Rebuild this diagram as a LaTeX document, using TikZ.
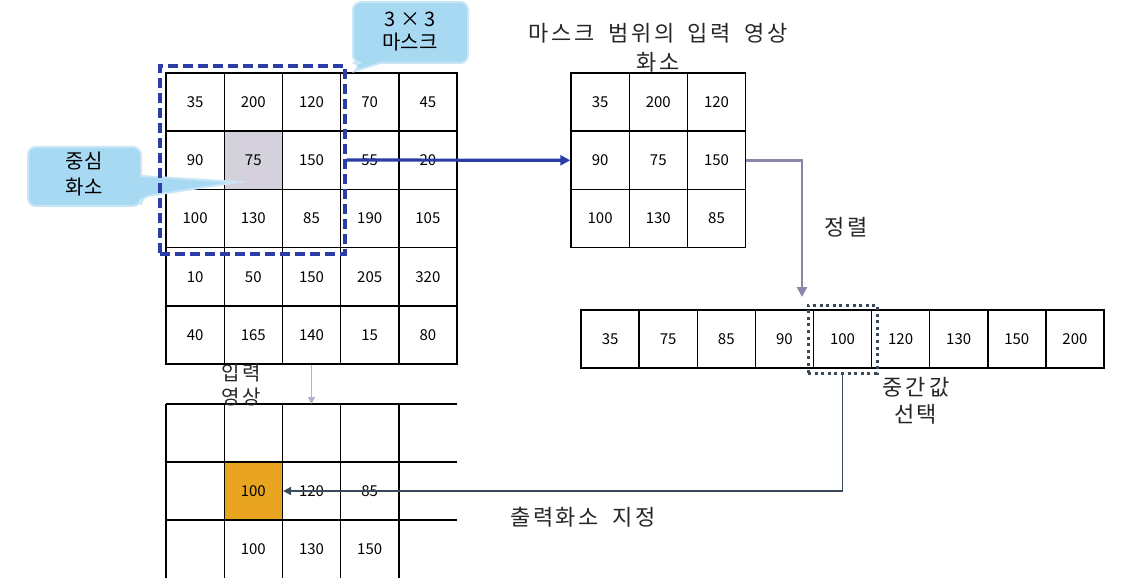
\documentclass[tikz,border=0pt]{standalone}
\usepackage{fontspec}
\setmainfont{Noto Sans CJK KR}
\usetikzlibrary{arrows.meta}
\newcommand\ksp[1][3pt]{\kern#1}
\definecolor{maskblue}{RGB}{43,62,168}
\definecolor{calfill}{RGB}{168,217,243}
\definecolor{caledge}{RGB}{200,230,245}
\definecolor{grayfill}{RGB}{212,209,220}
\definecolor{orangefill}{RGB}{233,165,31}
\definecolor{sortarrow}{RGB}{139,135,170}
\definecolor{darkarrow}{RGB}{58,74,90}
\definecolor{lightarrow}{RGB}{179,176,201}
\definecolor{txt}{RGB}{38,38,38}
\begin{document}
\begin{tikzpicture}[x=1pt,y=-1pt,
  cell/.style={draw=black,line width=1.4pt,minimum width=58.2pt,minimum height=58.2pt,inner sep=0pt,font=\fontsize{15}{17}\selectfont},
  num/.style={inner sep=0pt,font=\fontsize{15}{17}\selectfont},
  lbl/.style={inner sep=0pt,text=txt,font=\fontsize{22}{26}\selectfont},
  caltext/.style={inner sep=0pt,align=center,text=black},
  callout/.style={fill=calfill,draw=caledge,line width=2pt},
  gridline/.style={draw=black,line width=1.4pt},
  arrowtip/.style={-{Triangle[length=#1,width=#1]}}]
\useasboundingbox (0,0) rectangle (1131,588);

% gray centre cell
\fill[grayfill] (224.2,131.3) rectangle (282.4,189.5);

% input image grid
\foreach \row [count=\r from 0] in {{35,200,120,70,45},{90,75,150,55,20},{100,130,85,190,105},{10,50,150,205,320},{40,165,140,15,80}}{
  \foreach \v [count=\c from 0] in \row {
    \node[cell] (m-\r-\c) at ({195.1+58.2*\c},{102.1+58.2*\r}) {\v};
  }
}

% mask pixels grid
\foreach \row [count=\r from 0] in {{35,200,120},{90,75,150},{100,130,85}}{
  \foreach \v [count=\c from 0] in \row {
    \node[cell] (r-\r-\c) at ({600.1+58.2*\c},{102.1+58.2*\r}) {\v};
  }
}

% sorted row
\foreach \v [count=\i from 0] in {35,75,85,90,100,120,130,150,200}{
  \node[cell] (s-\i) at ({610.1+58.1*\i},339) {\v};
}

% output grid
\draw[gridline] (166,404) -- (457,404) (166,462) -- (457,462) (166,520) -- (457,520);
\foreach \x in {166,224.2,282.4,340.6,398.8}{
  \draw[gridline] (\x,404) -- (\x,578);
}
\node[cell,fill=orangefill] (o-1-1) at (253.3,491) {100};
\node[num] (o-1-2) at (311.5,491) {120};
\node[num] (o-1-3) at (369.7,491) {85};
\node[num] (o-2-1) at (253.3,549) {100};
\node[num] (o-2-2) at (311.5,549) {130};
\node[num] (o-2-3) at (369.7,549) {150};

% callouts
\path[callout] (380,63) [rounded corners=8pt] -- (468,63) -- (468,2) -- (353,2) -- (353,63) -- (361,63) [sharp corners] -- (355,71) -- cycle;
\node[caltext,font=\fontsize{20}{23}\selectfont] (c1t) at (410,32) {3 × 3\\마스크};
\path[callout] (141,176) [rounded corners=8pt] -- (141,147) -- (28,147) -- (28,206) -- (141,206) -- (141,197) [sharp corners] -- (238,182) -- cycle;
\node[caltext,font=\fontsize{20}{26}\selectfont] (c2t) at (84,174) {중심\\화소};

% mask outline
\node[draw=maskblue,line width=3.2pt,dash pattern=on 10pt off 5pt,minimum width=185pt,minimum height=188pt,inner sep=0pt] (mask) at (252.5,160) {};
% median outline
\node[draw=darkarrow,line width=3pt,dash pattern=on 3pt off 3.6pt,minimum width=69pt,minimum height=68pt,inner sep=0pt] (med) at (842.5,339) {};

% connectors
\coordinate (sortin) at (802,297);
\coordinate (otop) at (311.5,404);
\draw[maskblue,line width=3.2pt,arrowtip=10pt] (mask.east) -- (r-1-0.west);
\draw[sortarrow,line width=2.6pt,arrowtip=10pt] (r-1-2.east) -| (sortin);
\draw[darkarrow,line width=1.8pt,arrowtip=8pt] (med.south) |- (o-1-1.east);
\draw[lightarrow,line width=1.6pt,arrowtip=7pt] (m-4-2.south) -- (otop);

% labels
\node[lbl] (t1) at (658,33) {마\ksp 스\ksp 크 \ksp[8pt]범\ksp 위\ksp 의 \ksp[8pt]입\ksp 력 \ksp[8pt]영\ksp 상};
\node[lbl] (t2) at (658,62) {화\ksp 소};
\node[lbl] (sortlbl) at (846,227) {정\ksp 렬};
\node[lbl] (medlbl1) at (916,387) {중\ksp 간\ksp 값};
\node[lbl] (medlbl2) at (916,414) {선\ksp[2pt]택};
\node[lbl] (outlbl) at (583,517) {출\ksp[2.5pt]력\ksp[2.5pt]화\ksp[2.5pt]소 \ksp[9pt]지\ksp[2.5pt]정};
\node[lbl,font=\fontsize{20}{24}\selectfont] (inlbl1) at (241,373) {입\ksp[2pt]력};
\node[lbl,font=\fontsize{20}{24}\selectfont] (inlbl2) at (241,397) {영\ksp[2pt]상};
\end{tikzpicture}
\end{document}
